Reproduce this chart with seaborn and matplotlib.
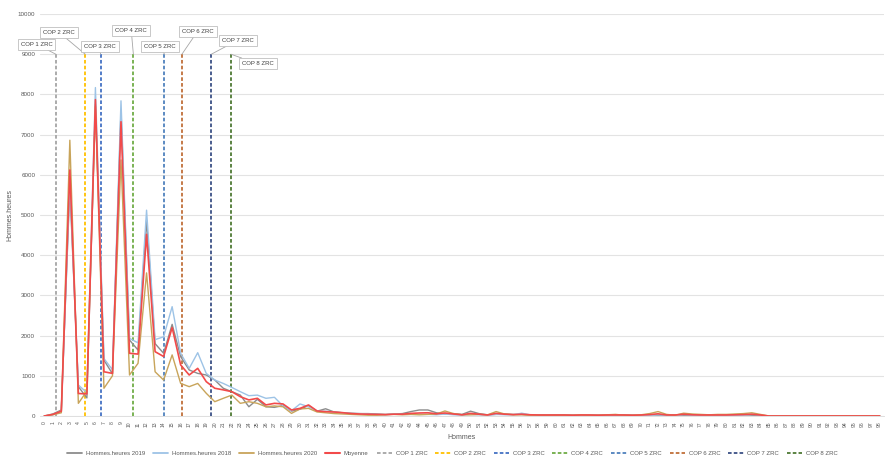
import numpy as np
import pandas as pd
import matplotlib
matplotlib.use("Agg")
import matplotlib.pyplot as plt
import seaborn as sns

categories = list(range(99))

h2019 = [0, 50, 150, 5700, 730, 450, 7750, 1390, 1050, 7600,
         1890, 1640, 4870, 1800, 1560, 2280, 1475, 1145, 1060, 1020,
         895, 690, 605, 520, 230, 415, 230, 215, 260, 120,
         170, 260, 120, 180, 100, 80, 70, 60, 60, 50,
         40, 50, 60, 110, 150, 150, 80, 50, 60, 40,
         120, 60, 30, 40, 50, 40, 40, 30, 30, 30,
         30, 30, 20, 20, 20, 20, 20, 20, 30, 20,
         20, 30, 20, 20, 30, 20, 20, 20, 20, 20,
         20, 20, 30, 20, 10, 0, 0, 0, 0, 0,
         0, 0, 0, 0, 0, 0, 0, 0, 0]

h2018 = [0, 30, 120, 5800, 770, 580, 8170, 1430, 1150, 7840,
         1930, 1820, 5120, 1900, 1970, 2720, 1560, 1185, 1575, 1060,
         895, 810, 710, 605, 505, 520, 440, 465, 250, 130,
         300, 230, 120, 120, 100, 80, 60, 60, 50, 40,
         30, 50, 40, 40, 40, 40, 30, 50, 30, 20,
         40, 30, 20, 40, 30, 30, 70, 30, 20, 30,
         20, 20, 20, 20, 30, 20, 20, 20, 20, 20,
         20, 20, 30, 20, 20, 40, 20, 20, 20, 20,
         20, 20, 20, 40, 20, 0, 0, 0, 0, 0,
         0, 0, 0, 0, 0, 0, 0, 0, 0]

h2020 = [0, 30, 80, 6860, 315, 620, 7700, 690, 1000, 6370,
         1020, 1310, 3560, 1100, 895, 1520, 810, 730, 810, 565,
         356, 440, 520, 315, 356, 315, 230, 250, 230, 65,
         175, 190, 100, 80, 60, 50, 40, 30, 20, 20,
         30, 40, 30, 40, 30, 40, 50, 125, 60, 30,
         30, 40, 30, 110, 50, 30, 30, 20, 20, 20,
         20, 20, 20, 30, 20, 20, 30, 40, 20, 20,
         30, 60, 110, 40, 20, 70, 50, 40, 30, 40,
         40, 50, 60, 80, 40, 0, 0, 0, 0, 0,
         0, 0, 0, 0, 0, 0, 0, 0, 0]

moyenne = [0, 40, 120, 6120, 560, 550, 7870, 1100, 1060, 7320,
           1560, 1540, 4520, 1600, 1480, 2200, 1270, 1020, 1185, 855,
           690, 650, 605, 480, 400, 440, 275, 315, 300, 150,
           190, 275, 125, 108, 100, 83, 60, 50, 45, 40,
           35, 45, 45, 65, 75, 80, 55, 75, 50, 30,
           65, 45, 25, 65, 45, 35, 45, 30, 25, 25,
           25, 25, 20, 25, 25, 20, 25, 25, 25, 20,
           25, 35, 55, 25, 25, 45, 30, 25, 25, 25,
           25, 30, 35, 45, 25, 0, 0, 0, 0, 0,
           0, 0, 0, 0, 0, 0, 0, 0, 0]

series_names = ["Hommes.heures 2019", "Hommes.heures 2018", "Hommes.heures 2020", "Moyenne"]
series_colors = ["#8C8C8C", "#9DC3E6", "#C8A45A", "#F24A4A"]
series_widths = [1.0, 1.0, 1.0, 1.2]

cop_names = ["COP 1 ZRC", "COP 2 ZRC", "COP 3 ZRC", "COP 4 ZRC",
             "COP 5 ZRC", "COP 6 ZRC", "COP 7 ZRC", "COP 8 ZRC"]
cop_pos = [1.35, 4.8, 6.6, 10.45, 14.1, 16.15, 19.6, 21.9]
cop_top = 9000
cop_colors = ["#A5A5A5", "#FFC000", "#4472C4", "#70AD47",
              "#4F81BD", "#C0703A", "#3B5186", "#4E7A34"]
cop_label_xy = [(-0.9, 9250), (1.7, 9550), (6.5, 9200), (10.2, 9600),
                (13.55, 9200), (18.0, 9575), (22.7, 9350), (25.05, 8760)]

sns.set_theme(style="white")
plt.rcParams['font.family'] = ['Liberation Sans Narrow', 'Liberation Sans', 'DejaVu Sans']

df = pd.DataFrame({
    "Hommes": categories * 4,
    "val": h2019 + h2018 + h2020 + moyenne,
    "serie": sum([[n] * len(categories) for n in series_names], []),
})

fig = plt.figure(figsize=(8.86, 4.57), dpi=100)
ax = fig.add_axes([40 / 886, 1 - 416 / 457, 844 / 886, 402 / 457])

handles = []
for name, col, lw in zip(series_names, series_colors, series_widths):
    sub = df[df["serie"] == name]
    sns.lineplot(data=sub, x="Hommes", y="val", color=col, linewidth=lw, ax=ax,
                 label=name, legend=False)
    handles.append(plt.Line2D([], [], color=col, linewidth=lw + 0.3, label=name))

for name, x, col, (lx, ly) in zip(cop_names, cop_pos, cop_colors, cop_label_xy):
    ax.plot([x, x], [0, cop_top], color=col, linewidth=1.3, linestyle=(0, (2, 1.2)), zorder=1)
    handles.append(plt.Line2D([], [], color=col, linewidth=1.3, linestyle=(0, (2, 1.2)), label=name))
    ax.annotate(name, xy=(x, cop_top), xytext=(lx, ly), textcoords="data",
                fontsize=4.3, color="#404040", ha="center", va="center",
                bbox=dict(boxstyle="square,pad=0.5", fc="white", ec="#BFBFBF", lw=0.6),
                arrowprops=dict(arrowstyle="-", color="#A6A6A6", lw=0.6,
                                shrinkA=0, shrinkB=0),
                annotation_clip=False, zorder=5)

ax.set_xlim(-0.5, 98.5)
ax.set_ylim(0, 10000)
ax.set_yticks(range(0, 10001, 1000))
ax.set_yticklabels([str(v) for v in range(0, 10001, 1000)], fontsize=4.5, color="#595959")
ax.set_xticks(categories)
ax.set_xticklabels([str(c) for c in categories], fontsize=3.6, color="#595959", rotation=90)
ax.tick_params(axis="x", length=2, width=0.4, color="#BFBFBF", pad=2)
ax.tick_params(axis="y", length=0, pad=3.5)
ax.grid(axis="y", color="#E3E3E3", linewidth=0.8)
ax.set_axisbelow(True)
for s in ["top", "right", "left"]:
    ax.spines[s].set_visible(False)
ax.spines["bottom"].set_color("#D9D9D9")
ax.spines["bottom"].set_linewidth(0.6)

ax.set_xlabel("Hommes", fontsize=5, color="#595959", labelpad=5)
ax.set_ylabel("Hommes.heures", fontsize=5, color="#595959")
ax.yaxis.set_label_coords(-27 / 844, 0.5)

fig.legend(handles=handles, loc="center", bbox_to_anchor=(452 / 886, 1 - 453 / 457),
           ncol=12, frameon=False, fontsize=4.3, handlelength=2.6,
           columnspacing=1.3, handletextpad=0.6, labelcolor="#595959")

fig.savefig("out.png", dpi=100)
